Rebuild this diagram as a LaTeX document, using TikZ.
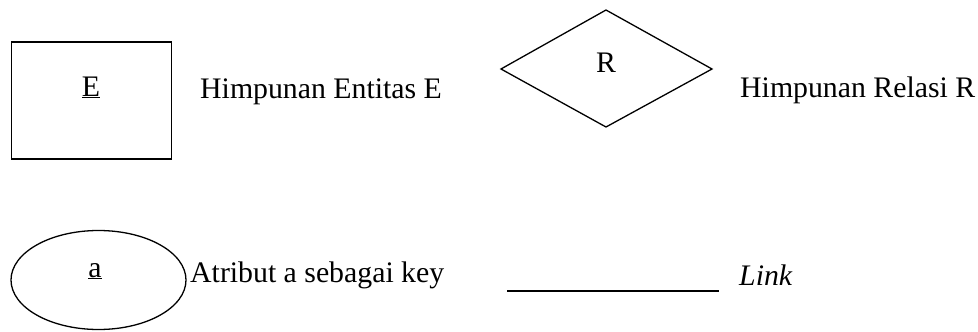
\documentclass[tikz,border=0pt]{standalone}
\usepackage{fontspec}
\setmainfont{Liberation Serif}
\usetikzlibrary{shapes.geometric}
\begin{document}
\begin{tikzpicture}[x=1pt,y=-1pt,
  lbl/.style={inner sep=0pt,anchor=base west,font=\fontsize{29.8}{36}\selectfont},
  ctr/.style={inner sep=0pt,anchor=base,font=\fontsize{29.8}{36}\selectfont},
  shp/.style={draw=black,line width=1.6pt}]
\useasboundingbox (0,0) rectangle (978,332);
% entity
\node[shp,draw,rectangle,minimum width=160pt,minimum height=117pt,inner sep=0pt] (ent) at (91.5,100.5) {};
\node[ctr] (entl) at (91,96) {\underline{E}};
\node[lbl] (entt) at (200,98) {Himpunan Entitas E};
% relation
\coordinate (dl) at (501,69);
\coordinate (dt) at (606,10);
\coordinate (dr) at (712,69);
\coordinate (db) at (606,127);
\draw[line width=1.3pt,line join=miter] (dl) -- (dt) -- (dr) -- (db) -- cycle;
\node[ctr] (rel) at (606,72) {R};
\node[lbl] (relt) at (740,97) {Himpunan Relasi R};
% attribute
\node[shp,ellipse,minimum width=175pt,minimum height=99pt,inner sep=0pt,line width=1.3pt] (att) at (98.5,280) {};
\node[ctr] (attl) at (95,277) {\underline{a}};
\node[lbl] (attt) at (190,282) {Atribut a sebagai key};
% link
\coordinate (la) at (507,291);
\coordinate (lb) at (719,291);
\draw[line width=1.8pt] (la) -- (lb);
\node[lbl] (lnk) at (739,285) {\textit{Link}};
\end{tikzpicture}
\end{document}
